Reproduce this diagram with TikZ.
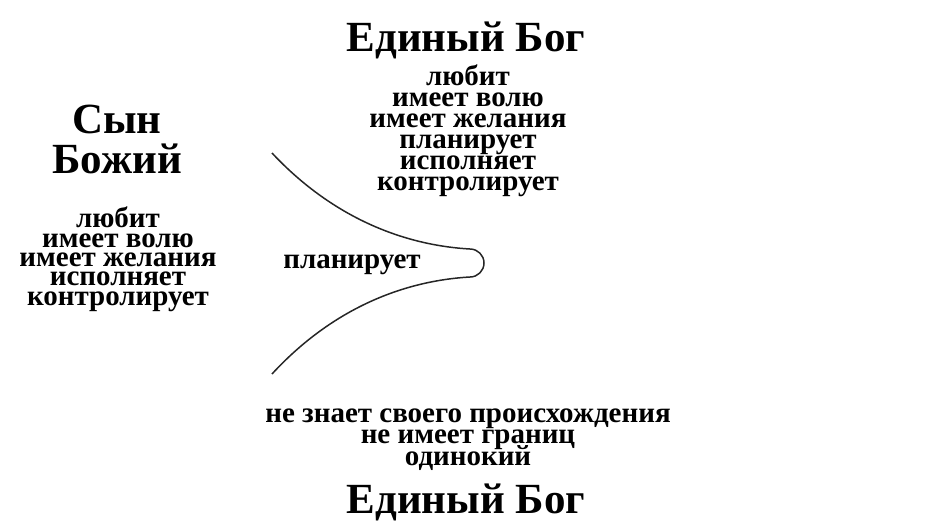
\documentclass[tikz,border=0pt]{standalone}
\usepackage{fontspec}
\setmainfont{Liberation Serif}
\newcommand{\tightlns}{\lineskiplimit=-100pt\relax\lineskip=0pt\relax}
\tikzset{
  title/.style={inner sep=0pt, anchor=base, align=center, font=\fontsize{43}{40}\selectfont\bfseries\tightlns},
  list/.style={inner sep=0pt, anchor=base, align=center, font=\fontsize{29}{21}\selectfont\bfseries\tightlns},
  curve/.style={line width=1.5pt, draw=black!85}
}
\begin{document}
\begin{tikzpicture}[x=1pt,y=-1pt]
\useasboundingbox (0,0) rectangle (939,528);
\node[title] (topgod) at (466,51) {Единый Бог};
\node[list] (toplist) at (468,190) {любит\\имеет волю\\имеет желания\\планирует\\исполняет\\контролирует};
\node[title] (son) at (117,173) {Сын\\Божий};
\node[list, font=\fontsize{29}{19.3}\selectfont\bfseries\tightlns] (sonlist) at (118,305) {любит\\имеет волю\\имеет желания\\исполняет\\контролирует};
\node[list] (mid) at (352,268) {планирует};
\node[list, font=\fontsize{29}{21.5}\selectfont\bfseries\tightlns] (botlist) at (468,465) {не знает своего происхождения\\не имеет границ\\одинокий};
\node[title] (botgod) at (466,513) {Единый Бог};
\coordinate (ua) at (272,153);
\coordinate (ub) at (470,249);
\coordinate (lb) at (470,277);
\coordinate (la) at (272,374);
\draw[curve] (ua) .. controls (330,215) and (400,245) .. (ub)
  arc[start angle=-90, end angle=90, radius=14]
  .. controls (400,281) and (330,311) .. (la);
\end{tikzpicture}
\end{document}
